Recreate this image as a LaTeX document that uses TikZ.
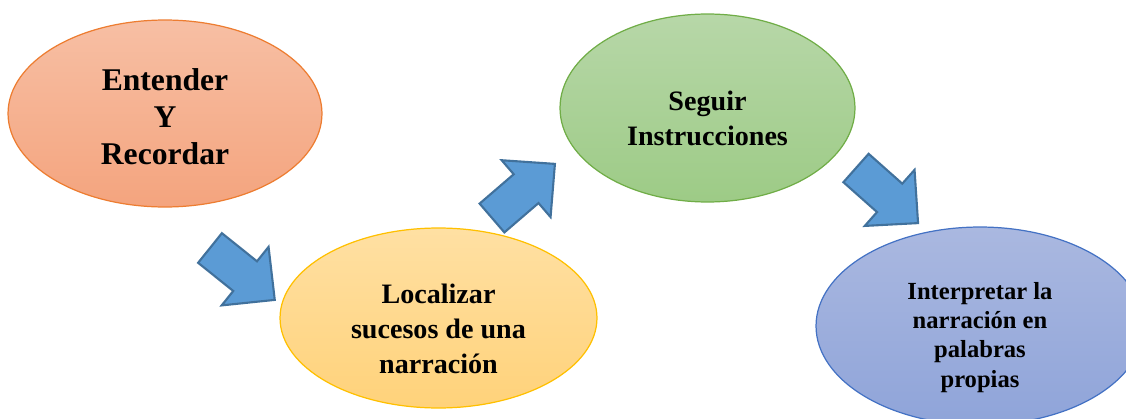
\documentclass[tikz,border=0pt]{standalone}
\usepackage{fontspec}
\setmainfont{Liberation Serif}
\usetikzlibrary{shapes.geometric}
\definecolor{naranjaBorde}{HTML}{ED7D31}
\definecolor{naranjaTop}{HTML}{F7BFA4}
\definecolor{naranjaBot}{HTML}{F4A47E}
\definecolor{amarilloBorde}{HTML}{FFC000}
\definecolor{amarilloTop}{HTML}{FFE0A3}
\definecolor{amarilloBot}{HTML}{FFD27A}
\definecolor{verdeBorde}{HTML}{70AD47}
\definecolor{verdeTop}{HTML}{B7D7A8}
\definecolor{verdeBot}{HTML}{9DCB86}
\definecolor{azulBorde}{HTML}{4472C4}
\definecolor{azulTop}{HTML}{AAB8E0}
\definecolor{azulBot}{HTML}{8FA4D9}
\definecolor{flechaFill}{HTML}{5B9BD5}
\definecolor{flechaBorde}{HTML}{41719C}

\begin{document}
\begin{tikzpicture}[x=0.02cm, y=-0.02cm,
      oval/.style={ellipse, line width=0.7pt, inner sep=0pt},
      txt/.style={align=center, inner sep=0pt},
      flecha/.style={fill=flechaFill, draw=flechaBorde, line width=1.2pt, line join=miter}
    ]
    \useasboundingbox (0,0) rectangle (1126,419);
    \clip (0,0) rectangle (1126,419);

    \node[oval, draw=naranjaBorde, top color=naranjaTop, bottom color=naranjaBot,
          minimum width=6.28cm, minimum height=3.74cm] (entender) at (165,113.5) {};
    \node[oval, draw=amarilloBorde, top color=amarilloTop, bottom color=amarilloBot,
          minimum width=6.34cm, minimum height=3.6cm] (localizar) at (438.5,318) {};
    \node[oval, draw=verdeBorde, top color=verdeTop, bottom color=verdeBot,
          minimum width=5.9cm, minimum height=3.76cm] (seguir) at (707.5,108) {};
    \node[oval, draw=azulBorde, top color=azulTop, bottom color=azulBot,
          minimum width=6.56cm, minimum height=3.96cm] (interpretar) at (980,326) {};

    \node[txt, font=\fontsize{18}{21}\selectfont\bfseries] (entender-txt)
      at ([yshift=-0.06cm]entender.center) {Entender\\Y\\Recordar};
    \node[txt, font=\fontsize{16}{19.9}\selectfont\bfseries] (localizar-txt)
      at ([yshift=-0.21cm]localizar.center) {Localizar\\sucesos de una\\narración};
    \node[txt, font=\fontsize{16}{19.9}\selectfont\bfseries] (seguir-txt)
      at ([yshift=-0.2cm]seguir.center) {Seguir\\Instrucciones};
    \node[txt, font=\fontsize{14}{16.6}\selectfont\bfseries] (interpretar-txt)
      at ([yshift=-0.23cm]interpretar.center) {Interpretar la\\narración en\\palabras\\propias};

    % flechas de bloque entre los pasos
    \foreach \x/\y/\ang in {210/248/-38.7, 492/218/40.7, 856/168/-41.6}
      \draw[flecha, shift={(\x,\y)}, rotate=\ang]
        (0,-19) -- (45,-19) -- (45,-37.5) -- (83,0) -- (45,37.5) -- (45,19) -- (0,19) -- cycle;
  \end{tikzpicture}
\end{document}
